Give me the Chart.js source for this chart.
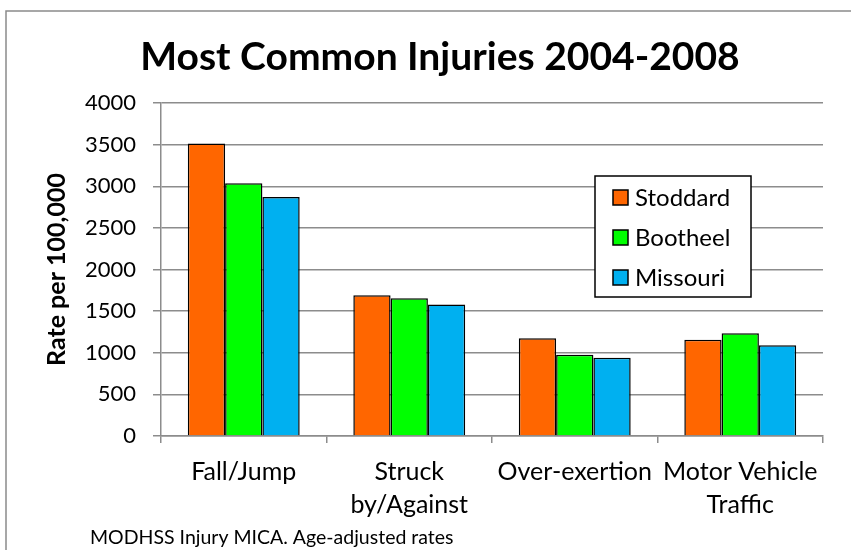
<!DOCTYPE html>
<html>
<head>
<meta charset="utf-8">
<script src="https://cdn.jsdelivr.net/npm/chart.js@4.4.1/dist/chart.umd.min.js"></script>
<style>
  html,body{margin:0;padding:0;background:#fff;}
  #wrap{width:851px;height:550px;}
</style>
</head>
<body>
<div id="wrap"><canvas id="chart" width="851" height="550"></canvas></div>
<script>
// data
const categories = ['Fall/Jump', ['Struck', 'by/Against'], 'Over-exertion', ['Motor Vehicle', 'Traffic']];
const seriesNames = ['Stoddard', 'Bootheel', 'Missouri'];
const stoddard = [3515, 1690, 1175, 1155];
const bootheel = [3035, 1655, 975, 1235];
const missouri = [2870, 1580, 940, 1090];
const yTicks = [0, 500, 1000, 1500, 2000, 2500, 3000, 3500, 4000];
const colors = ['#FF6600', '#00FF00', '#00B0F0'];

const FONT = 'Lato, "Open Sans", sans-serif';
const GRID = '#8c8c8c';

// title, outer frame, legend box and footnote
const extras = {
  id: 'extras',
  beforeDraw(chart) {
    const ctx = chart.ctx;
    ctx.save();
    ctx.fillStyle = '#fff';
    ctx.fillRect(0, 0, chart.width, chart.height);
    ctx.strokeStyle = '#8a8a8a';
    ctx.lineWidth = 1.5;
    ctx.strokeRect(6, 11, 900, 600);
    ctx.fillStyle = '#000';
    ctx.font = 'bold 39px ' + FONT;
    ctx.textAlign = 'center';
    ctx.textBaseline = 'alphabetic';
    ctx.fillText('Most Common Injuries 2004-2008', 440, 70);
    ctx.restore();
  },
  afterDraw(chart) {
    const ctx = chart.ctx;
    ctx.save();
    // legend
    ctx.fillStyle = '#fff';
    ctx.fillRect(595, 176, 156, 121);
    ctx.strokeStyle = '#000';
    ctx.lineWidth = 1.5;
    ctx.strokeRect(595, 176, 156, 121);
    ctx.font = '24px ' + FONT;
    ctx.textAlign = 'left';
    ctx.textBaseline = 'middle';
    chart.data.datasets.forEach((ds, i) => {
      const y = 197 + i * 40;
      ctx.fillStyle = ds.backgroundColor;
      ctx.fillRect(613, y - 7, 15, 15);
      ctx.strokeStyle = '#000';
      ctx.lineWidth = 1.5;
      ctx.strokeRect(613, y - 7, 15, 15);
      ctx.fillStyle = '#000';
      ctx.fillText(ds.label, 635, y + 1);
    });
    // footnote
    ctx.font = '19.5px ' + FONT;
    ctx.fillText('MODHSS Injury MICA. Age-adjusted rates', 90, 538);
    ctx.restore();
  }
};

new Chart(document.getElementById('chart'), {
  type: 'bar',
  data: {
    labels: categories,
    datasets: [
      {label: seriesNames[0], data: stoddard, backgroundColor: colors[0]},
      {label: seriesNames[1], data: bootheel, backgroundColor: colors[1]},
      {label: seriesNames[2], data: missouri, backgroundColor: colors[2]}
    ].map(d => Object.assign(d, {borderColor: '#000', borderWidth: 1.5, borderSkipped: 'bottom',
      categoryPercentage: 0.676, barPercentage: 1}))
  },
  options: {
    responsive: false,
    animation: false,
    layout: {padding: {top: 103, left: 42, right: 28, bottom: 0}},
    plugins: {legend: {display: false}, title: {display: false}, tooltip: {enabled: false}},
    scales: {
      x: {
        grid: {drawOnChartArea: false, tickLength: 7, color: GRID, lineWidth: 1.5, offset: true},
        border: {color: GRID, width: 1.5},
        ticks: {color: '#000', font: {family: FONT, size: 25, lineHeight: 1.3}, padding: 13, maxRotation: 0, autoSkip: false},
        afterFit(s) { s.height = 114; }
      },
      y: {
        min: 0, max: 4000,
        afterBuildTicks(s) { s.ticks = yTicks.map(v => ({value: v})); },
        grid: {color: GRID, lineWidth: 1.5, tickLength: 8},
        border: {color: GRID, width: 1.5},
        ticks: {color: '#000', font: {family: FONT, size: 22}, padding: 17, callback: v => String(v)},
        title: {display: true, text: 'Rate per 100,000', color: '#000', font: {family: FONT, size: 25, weight: 'bold'}, padding: 0},
        afterFit(s) { s.width = 119; }
      }
    }
  },
  plugins: [extras]
});
</script>
</body>
</html>
